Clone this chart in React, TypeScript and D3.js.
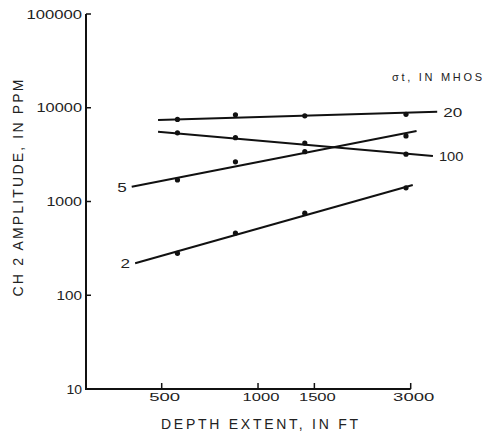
import React from "react";
import * as d3 from "d3";

// ---- data ----
const depths = [560, 850, 1400, 2900];
const seriesNames = ["20", "100", "5", "2"];
const amp20 = [7500, 8400, 8200, 8500];
const amp100 = [5400, 4800, 4200, 3200];
const amp5 = [1700, 2650, 3400, 5000];
const amp2 = [280, 460, 750, 1400];
// fitted line endpoints [depth, amplitude]
const fit20 = [[487, 7400], [3630, 9080]];
const fit100 = [[487, 5550], [3520, 3050]];
const fit5 = [[403, 1440], [3130, 5650]];
const fit2 = [[413, 219], [3045, 1500]];
const xTicks = [500, 1000, 1500, 3000];
const yTicks = [10, 100, 1000, 10000, 100000];

const W = 492, H = 436;
const x = d3.scaleLog().domain([290, 3000]).range([86, 410.7]);
const y = d3.scaleLog().domain([10, 100000]).range([389, 14]);

const FONT = "'Liberation Sans', Arial, sans-serif";
const charW = (s: string, one: number, other: number) =>
  s.split("").reduce((a, c) => a + (c === "1" ? one : other), 0);

const series = [
  { name: seriesNames[0], vals: amp20, fit: fit20, labelAt: "end" },
  { name: seriesNames[1], vals: amp100, fit: fit100, labelAt: "end" },
  { name: seriesNames[2], vals: amp5, fit: fit5, labelAt: "start" },
  { name: seriesNames[3], vals: amp2, fit: fit2, labelAt: "start" },
];

export default function App() {
  const line = d3
    .line<number[]>()
    .x((d) => x(d[0]))
    .y((d) => y(d[1]));
  return (
    <svg width={W} height={H} style={{ position: "absolute", left: 0, top: 0, background: "#fff" }}>
      <rect width={W} height={H} fill="#fff" />
      {/* axes */}
      <path d={`M${x(290)},${y(100000)} V${y(10)} H${x(3000)}`} fill="none" stroke="#111" strokeWidth={2} />
      {yTicks.map((t) => (
        <g key={"y" + t}>
          <line x1={x(290)} x2={x(290) + 5} y1={y(t)} y2={y(t)} stroke="#111" strokeWidth={1.5} />
          <text
            x={82}
            y={y(t) + 4.5}
            textAnchor="end"
            fontFamily={FONT}
            fontSize={12}
            fill="#222"
            textLength={charW(String(t), 5.5, 10)}
            lengthAdjust="spacingAndGlyphs"
          >
            {String(t)}
          </text>
        </g>
      ))}
      {xTicks.map((t) => (
        <g key={"x" + t}>
          <line x1={x(t)} x2={x(t)} y1={y(10)} y2={y(10) - 6} stroke="#111" strokeWidth={1.5} />
          <text
            x={x(t) + 3}
            y={400.5}
            textAnchor="middle"
            fontFamily={FONT}
            fontSize={11}
            fill="#222"
            textLength={charW(String(t), 6, 10.3)}
            lengthAdjust="spacingAndGlyphs"
          >
            {String(t)}
          </text>
        </g>
      ))}
      {/* axis titles */}
      <text
        x={259.5}
        y={429}
        textAnchor="middle"
        fontFamily={FONT}
        fontSize={14}
        fill="#222"
        textLength={197}
        lengthAdjust="spacing"
      >
        DEPTH EXTENT, IN FT
      </text>
      <text
        transform={`translate(23,188) rotate(-90)`}
        textAnchor="middle"
        fontFamily={FONT}
        fontSize={14}
        fill="#222"
        textLength={217}
        lengthAdjust="spacing"
      >
        CH 2 AMPLITUDE, IN PPM
      </text>
      <text x={392} y={81} fontFamily={FONT} fontSize={11} fill="#222" textLength={90} lengthAdjust="spacing">
        σt, IN MHOS
      </text>
      {/* series */}
      {series.map((s) => {
        const [p0, p1] = s.fit;
        const lx = s.labelAt === "end" ? x(p1[0]) + 6 : x(p0[0]) - 5;
        const ly = s.labelAt === "end" ? y(p1[1]) : y(p0[1]);
        return (
          <g key={s.name}>
            <path d={line(s.fit) || ""} fill="none" stroke="#111" strokeWidth={2} />
            {depths.map((d, i) => (
              <circle key={i} cx={x(d)} cy={y(s.vals[i])} r={2.6} fill="#111" />
            ))}
            <text
              x={lx}
              y={ly + 5}
              textAnchor={s.labelAt === "end" ? "start" : "end"}
              fontFamily={FONT}
              fontSize={13}
              fill="#222"
              textLength={charW(s.name, 5.5, 9.5)}
              lengthAdjust="spacingAndGlyphs"
            >
              {s.name}
            </text>
          </g>
        );
      })}
    </svg>
  );
}
